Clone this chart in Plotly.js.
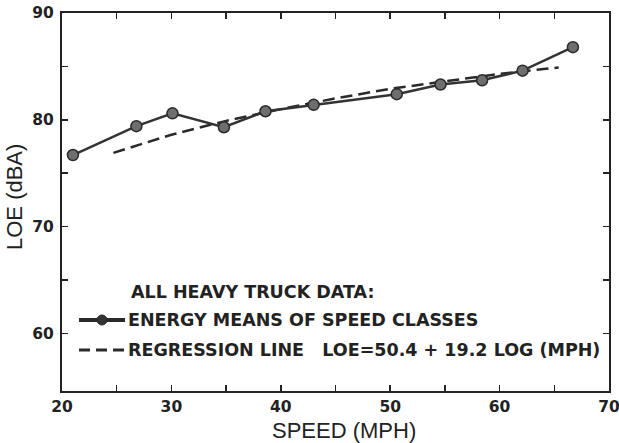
<!DOCTYPE html>
<html>
<head>
<meta charset="utf-8">
<script src="https://cdn.plot.ly/plotly-3.0.1.min.js"></script>
<style>html,body{margin:0;padding:0;background:#fff;}#chart{width:619px;height:443px;}</style>
</head>
<body>
<div id="chart"></div>
<script>
// Energy means of speed classes
const speedClasses = [21.0, 26.8, 30.1, 34.8, 38.6, 43.0, 50.6, 54.6, 58.4, 62.1, 66.7];
const energyMeans  = [76.7, 79.4, 80.6, 79.3, 80.8, 81.4, 82.4, 83.3, 83.7, 84.6, 86.8];

// Regression line, points
const regSpeed = [24.7, 30, 35, 40, 45, 50, 55, 60, 65.4];
const regLoe   = [76.9, 78.6, 79.9, 81.0, 82.0, 82.9, 83.6, 84.3, 84.9];

const xTickVals = [20, 25, 30, 35, 40, 45, 50, 55, 60, 65, 70];
const xTickText = ['20', '', '30', '', '40', '', '50', '', '60', '', '70'];
const yTickVals = [60, 65, 70, 75, 80, 85, 90];
const yTickText = ['60', '', '70', '', '80', '', '90'];

const legendTitle = 'ALL HEAVY TRUCK DATA:';
const legendMeans = 'ENERGY MEANS OF SPEED CLASSES';
const legendReg = 'REGRESSION LINE\u00a0\u00a0 LOE=50.4 + 19.2 LOG (MPH)';

const ink = '#222';
const tickFont = {family: 'DejaVu Sans', size: 15.5, color: ink, weight: 'bold'};
const legFont = {family: 'DejaVu Sans', size: 17.5, color: ink, weight: 'bold'};
const titleFont = {family: 'Liberation Sans', size: 22, color: ink};

const traces = [
  {
    x: regSpeed, y: regLoe, type: 'scatter', mode: 'lines',
    line: {color: '#2a2a2a', width: 2.5, dash: '12px,6px'},
    hoverinfo: 'skip', showlegend: false
  },
  {
    x: speedClasses, y: energyMeans, type: 'scatter', mode: 'lines+markers',
    line: {color: '#333', width: 2.5},
    marker: {size: 11, color: '#6e6e6e', line: {color: '#2a2a2a', width: 1.5}},
    showlegend: false
  }
];

// pixel helpers for legend/title placement (decoration only)
const L = 62, R = 10, T = 13, B = 52, W = 619, H = 443;
const pw = W - L - R, ph = H - T - B;
const px = v => (v - L) / pw;
const py = v => (H - B - v) / ph;

const layout = {
  width: W, height: H,
  margin: {l: L, r: R, t: T, b: B, pad: 0},
  paper_bgcolor: '#fff', plot_bgcolor: '#fff',
  showlegend: false,
  xaxis: {
    range: [20, 70], tickvals: xTickVals, ticktext: xTickText,
    ticks: 'inside', ticklen: 6, tickwidth: 1.5, tickcolor: ink,
    showline: true, linecolor: ink, linewidth: 2, mirror: 'ticks',
    showgrid: false, zeroline: false, tickfont: tickFont, ticklabelstandoff: 0,
    ticklabeloverflow: 'allow',
    title: {text: ''}
  },
  yaxis: {
    range: [54.6, 90], tickvals: yTickVals, ticktext: yTickText,
    ticks: 'inside', ticklen: 6, tickwidth: 1.5, tickcolor: ink,
    showline: true, linecolor: ink, linewidth: 2, mirror: 'ticks',
    showgrid: false, zeroline: false, tickfont: tickFont, ticklabelstandoff: 3,
    title: {text: ''}
  },
  shapes: [
    {type: 'line', xref: 'paper', yref: 'paper', x0: px(79), x1: px(125), y0: py(320), y1: py(320),
     line: {color: '#2a2a2a', width: 4}},
    {type: 'circle', xref: 'paper', yref: 'paper', xsizemode: 'pixel', ysizemode: 'pixel',
     xanchor: px(102), yanchor: py(320), x0: -5, x1: 5, y0: -5, y1: 5,
     fillcolor: '#333', line: {color: '#2a2a2a', width: 1}},
    {type: 'line', xref: 'paper', yref: 'paper', x0: px(79), x1: px(125), y0: py(350), y1: py(350),
     line: {color: '#2a2a2a', width: 3, dash: '11px,6px'}}
  ],
  annotations: [
    {xref: 'paper', yref: 'paper', x: px(344), y: py(430), xanchor: 'center', yanchor: 'middle',
     text: 'SPEED (MPH)', showarrow: false, font: titleFont},
    {xref: 'paper', yref: 'paper', x: px(14), y: py(197), xanchor: 'center', yanchor: 'middle',
     text: 'LOE (dBA)', textangle: -90, showarrow: false, font: titleFont},
    {xref: 'paper', yref: 'paper', x: px(129), y: py(292), xanchor: 'left', yanchor: 'middle',
     text: legendTitle, showarrow: false, font: legFont},
    {xref: 'paper', yref: 'paper', x: px(126), y: py(320), xanchor: 'left', yanchor: 'middle',
     text: legendMeans, showarrow: false, font: legFont},
    {xref: 'paper', yref: 'paper', x: px(126), y: py(350), xanchor: 'left', yanchor: 'middle',
     text: legendReg, showarrow: false, font: legFont}
  ]
};

Plotly.newPlot('chart', traces, layout, {displayModeBar: false, staticPlot: true});
</script>
</body>
</html>
